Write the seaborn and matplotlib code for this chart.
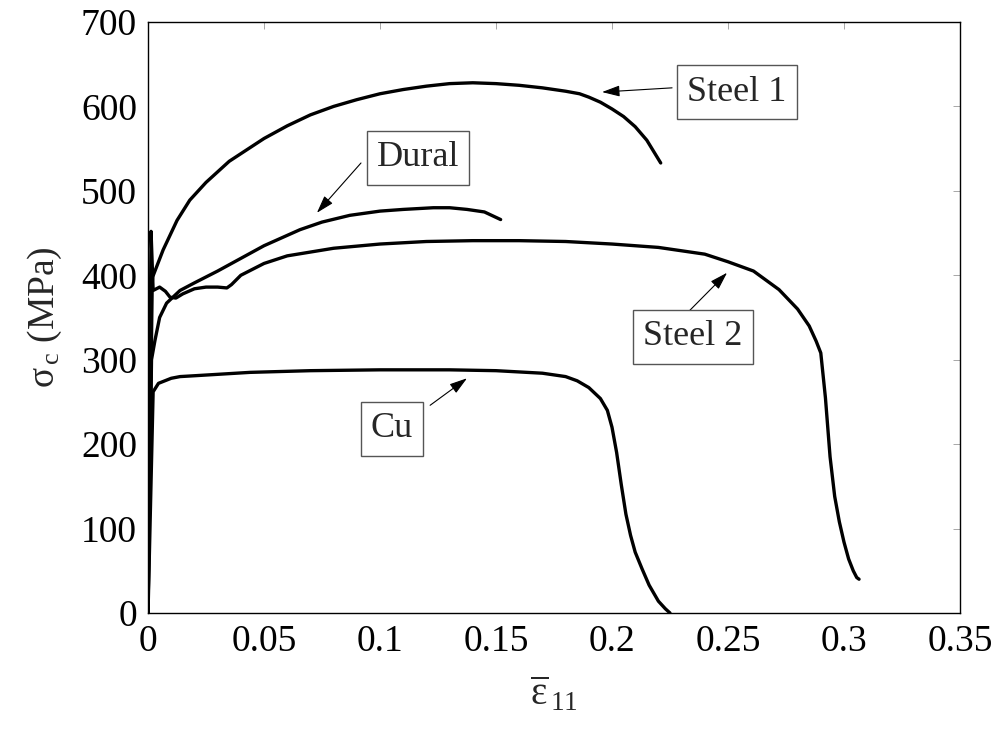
import matplotlib
matplotlib.use("Agg")
import matplotlib.pyplot as plt
import seaborn as sns
import pandas as pd

# Compression stress-strain curves for four materials
steel1_strain = [0.0, 0.0018, 0.002, 0.0065, 0.0125, 0.018, 0.025, 0.035, 0.05, 0.06,
                 0.07, 0.08, 0.09, 0.10, 0.11, 0.12, 0.13, 0.14, 0.15, 0.16, 0.17,
                 0.18, 0.186, 0.19, 0.195, 0.20, 0.205, 0.21, 0.215, 0.221]
steel1_stress = [0, 390, 398, 430, 465, 489, 510, 535, 562, 577,
                 590, 600, 608, 615, 620, 624, 627, 628, 627, 625, 622,
                 618, 615, 611, 605, 597, 588, 576, 560, 533]

dural_strain = [0.0, 0.0015, 0.003, 0.005, 0.008, 0.0138, 0.02, 0.03, 0.04, 0.05,
                0.0655, 0.075, 0.087, 0.10, 0.11, 0.123, 0.13, 0.1375, 0.145, 0.152]
dural_stress = [0, 300, 323, 350, 367, 382, 391, 405, 420, 435,
                454, 463, 471, 476, 478, 480, 480, 478, 475, 466]

steel2_strain = [0.0, 0.0013, 0.0022, 0.005, 0.0075, 0.0095, 0.012, 0.015, 0.02,
                 0.025, 0.03, 0.034, 0.036, 0.04, 0.05, 0.06, 0.08, 0.10, 0.12,
                 0.14, 0.16, 0.18, 0.20, 0.22, 0.24, 0.25, 0.261, 0.272, 0.28,
                 0.285, 0.288, 0.29, 0.292, 0.294, 0.296, 0.298, 0.300, 0.302,
                 0.304, 0.3055, 0.3065]
steel2_stress = [0, 452, 382, 386, 381, 374, 373, 378, 384,
                 386, 386, 385, 389, 400, 414, 423, 432, 437, 440,
                 441, 441, 440, 437, 433, 425, 416, 405, 383, 360,
                 340, 322, 308, 255, 185, 138, 108, 84, 64,
                 50, 42, 40]

cu_strain = [0.0, 0.0022, 0.0045, 0.01, 0.0138, 0.02, 0.044, 0.07, 0.10, 0.13,
             0.15, 0.17, 0.18, 0.185, 0.19, 0.195, 0.198, 0.20, 0.202, 0.204,
             0.206, 0.208, 0.21, 0.213, 0.216, 0.22, 0.223, 0.225]
cu_stress = [0, 262, 272, 278, 280, 281, 285, 287, 288, 288,
             287, 284, 280, 275, 267, 254, 240, 220, 190, 152,
             117, 92, 72, 52, 33, 14, 5, 0]

labels = ["Steel 1", "Dural", "Steel 2", "Cu"]
x_ticks = [0, 0.05, 0.1, 0.15, 0.2, 0.25, 0.3, 0.35]
x_tick_labels = ["0", "0.05", "0.1", "0.15", "0.2", "0.25", "0.3", "0.35"]
y_ticks = [0, 100, 200, 300, 400, 500, 600, 700]

sns.set_theme(style="white")
plt.rcParams["font.family"] = ["Liberation Serif", "DejaVu Serif"]
plt.rcParams["mathtext.fontset"] = "custom"
plt.rcParams["mathtext.rm"] = "Liberation Serif"
plt.rcParams["mathtext.it"] = "Liberation Serif"
plt.rcParams["mathtext.bf"] = "Liberation Serif:bold"

fig = plt.figure(figsize=(10.07, 7.48), dpi=100)
ax = fig.add_axes([0.147, 0.1805, 0.8063, 0.7901])

curves = [(steel1_strain, steel1_stress), (dural_strain, dural_stress),
          (steel2_strain, steel2_stress), (cu_strain, cu_stress)]
for (xs, ys), name in zip(curves, labels):
    df = pd.DataFrame({"strain": xs, "stress": ys})
    sns.lineplot(data=df, x="strain", y="stress", ax=ax, color="black",
                 linewidth=2.4, sort=False, estimator=None)

ax.set_xlim(0, 0.35)
ax.set_ylim(0, 700)
ax.set_xticks(x_ticks)
ax.set_xticklabels(x_tick_labels)
ax.set_yticks(y_ticks)
ax.tick_params(axis="both", which="both", direction="in", length=5, width=0.6,
               color="#999999", labelsize=27, labelcolor="black",
               top=True, right=True, pad=8)
for sp in ax.spines.values():
    sp.set_color("black")
    sp.set_linewidth(1.0)

ax.set_xlabel(r"$\overline{\varepsilon}_{\,11}$", fontsize=28, labelpad=12)
ax.set_ylabel(r"$\sigma_{\,\mathrm{c}}$ (MPa)", fontsize=27, labelpad=12)

box = dict(boxstyle="square,pad=0.28", facecolor="white", edgecolor="#555555",
           linewidth=1.0)
arrow = dict(arrowstyle="-|>,head_length=0.9,head_width=0.28", color="black",
             lw=0.8, shrinkA=0, shrinkB=0)

# label text position, arrow start, arrow tip (data coordinates)
annotations = [
    ("Steel 1", (0.2539, 617), (0.2259, 622), (0.1957, 617)),
    ("Dural", (0.1164, 539), (0.0918, 533), (0.0728, 474)),
    ("Steel 2", (0.2349, 327), (0.2323, 355), (0.2496, 403)),
    ("Cu", (0.1052, 218), (0.1216, 246), (0.1375, 278)),
]
for text, pos, start, tip in annotations:
    ax.annotate("", xy=tip, xytext=start, arrowprops=arrow)
    ax.text(pos[0], pos[1], text, fontsize=26, ha="center", va="center",
            bbox=box)

fig.savefig("out.png", dpi=100, facecolor="white")
